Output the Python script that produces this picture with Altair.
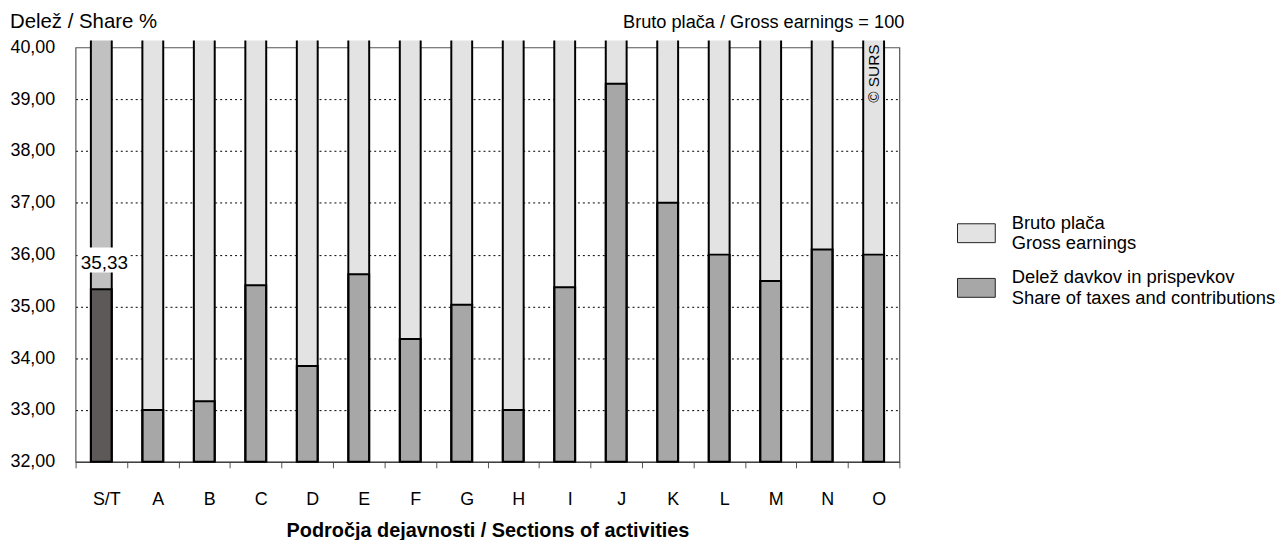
import altair as alt
import pandas as pd

# ---- data -------------------------------------------------------------
CATS = ["S/T", "A", "B", "C", "D", "E", "F", "G", "H", "I", "J", "K", "L", "M", "N", "O"]
TAX_SHARE = [35.33, 33.00, 33.17, 35.41, 33.85, 35.62, 34.37, 35.03, 33.00,
             35.37, 39.30, 37.00, 36.00, 35.49, 36.10, 36.00]
TOTAL_CAT = "S/T"
Y_TICKS = [32, 33, 34, 35, 36, 37, 38, 39, 40]
Y_MIN, Y_MAX = 32, 40
GROSS_TOP = 40.135  # gross earnings bar continues past the top of the frame

LEGEND_KEYS = ["gross", "tax", "gross_st", "tax_st"]
LEGEND_COLORS = ["#e3e3e3", "#a7a7a7", "#c1c1c1", "#5e5959"]
LEGEND_GROSS = ["Bruto plača", "Gross earnings"]
LEGEND_TAX = ["Delež davkov in prispevkov", "Share of taxes and contributions"]

TITLE = "Delež / Share %"
NOTE = "Bruto plača / Gross earnings = 100"
X_TITLE = "Področja dejavnosti / Sections of activities"
COPYRIGHT = "© SURS"
COPYRIGHT_CAT = "O"

FONT = "Liberation Sans"

df = pd.DataFrame({"cat": CATS, "value": TAX_SHARE})
df["lo"] = Y_MIN
df["hi"] = GROSS_TOP
df["gkey"] = ["gross_st" if c == TOTAL_CAT else "gross" for c in CATS]
df["tkey"] = ["tax_st" if c == TOTAL_CAT else "tax" for c in CATS]
df["label"] = [f"{v:.2f}".replace(".", ",") for v in TAX_SHARE]

title_df = pd.DataFrame({"t": [TITLE]})
note_df = pd.DataFrame({"t": [NOTE]})
copy_df = pd.DataFrame({"cat": [COPYRIGHT_CAT], "t": [COPYRIGHT]})


def arr(lst):
    return "[" + ", ".join("'" + s + "'" for s in lst) + "]"


legend_expr = f"datum.value == 'gross' ? {arr(LEGEND_GROSS)} : {arr(LEGEND_TAX)}"

# ---- encodings --------------------------------------------------------
x_enc = alt.X(
    "cat:N", sort=CATS,
    scale=alt.Scale(paddingInner=0, paddingOuter=0),
    axis=alt.Axis(
        title=X_TITLE, titleFontSize=20, titleFontWeight="bold", titleColor="black",
        titlePadding=12, labelAngle=0, labelFontSize=18, labelColor="black",
        labelPadding=23, labelOffset=5, tickBand="extent", tickSize=6, tickColor="#555",
        domainColor="#333", grid=False,
    ),
)
y_scale = alt.Scale(domain=[Y_MIN, Y_MAX], nice=False, zero=False)
y_axis = alt.Axis(
    title=None, values=Y_TICKS, ticks=False, labelPadding=21, labelFontSize=18,
    labelColor="black", domain=False,
    labelExpr="replace(format(datum.value, '.2f'), '.', ',')",
    grid=True, gridColor="black", gridDash=[2, 3], gridWidth=1,
    gridOpacity={"condition": {"test": f"datum.value == {Y_MIN} || datum.value == {Y_MAX}", "value": 0}, "value": 1},
)
color_scale = alt.Scale(domain=LEGEND_KEYS, range=LEGEND_COLORS)
legend = alt.Legend(
    title=None, orient="none", legendX=887, legendY=157, values=["gross", "tax"],
    labelExpr=legend_expr, symbolType="M-1,0.05H1V1.05H-1Z", symbolSize=1444,
    symbolStrokeColor="#222", symbolStrokeWidth=1, symbolOpacity=1,
    labelFontSize=18.5, labelColor="black", labelOffset=16, labelLimit=500, rowPadding=5,
)

base = alt.Chart(df)

gross = base.mark_bar(width=21).encode(
    x=x_enc,
    y=alt.Y("value:Q", scale=y_scale, axis=y_axis),
    y2="hi:Q",
    color=alt.Color("gkey:N", scale=color_scale, legend=legend),
)
tax = base.mark_bar(width=21, stroke="black", strokeWidth=2).encode(
    x=x_enc,
    y=alt.Y("lo:Q", scale=y_scale, axis=y_axis),
    y2="value:Q",
    color=alt.Color("tkey:N", scale=color_scale, legend=legend),
)
side_l = base.mark_rule(color="black", strokeWidth=2, xOffset=-10.5).encode(
    x=x_enc, y=alt.Y("lo:Q", scale=y_scale, axis=y_axis), y2="hi:Q")
side_r = base.mark_rule(color="black", strokeWidth=2, xOffset=10.5).encode(
    x=x_enc, y=alt.Y("lo:Q", scale=y_scale, axis=y_axis), y2="hi:Q")

total = base.transform_filter(alt.datum.cat == TOTAL_CAT)
label_bg = total.mark_rect(color="white", yOffset=-17, y2Offset=-42, xOffset=2, x2Offset=2).encode(
    x=x_enc, y=alt.Y("value:Q", scale=y_scale, axis=y_axis), y2="value:Q")
label = total.mark_text(fontSize=19, baseline="middle", align="center", dy=-26, dx=3, color="black").encode(
    x=x_enc, y=alt.Y("value:Q", scale=y_scale, axis=y_axis), text="label:N")

title_txt = alt.Chart(title_df).mark_text(fontSize=20.5, align="left", baseline="alphabetic", color="black").encode(
    x=alt.value(-66), y=alt.value(-20), text="t:N")
note = alt.Chart(note_df).mark_text(fontSize=18.3, align="right", baseline="alphabetic", color="black").encode(
    x=alt.value(834), y=alt.value(-20), text="t:N")
copyright_txt = alt.Chart(copy_df).mark_text(
    fontSize=15.5, angle=270, align="right", baseline="middle", color="black"
).encode(x=x_enc, y=alt.value(-3), text="t:N")

chart = alt.layer(
    gross, tax, side_l, side_r, label_bg, label, title_txt, note, copyright_txt
).properties(
    width=829, height=417,
    autosize=alt.AutoSizeParams(type="none"),
    padding={"left": 68, "top": 38, "right": 380, "bottom": 77},
).configure(font=FONT).configure_view(stroke="#555", strokeWidth=1.2)

chart.save("out.html", embed_options={"renderer": "svg", "actions": False})
